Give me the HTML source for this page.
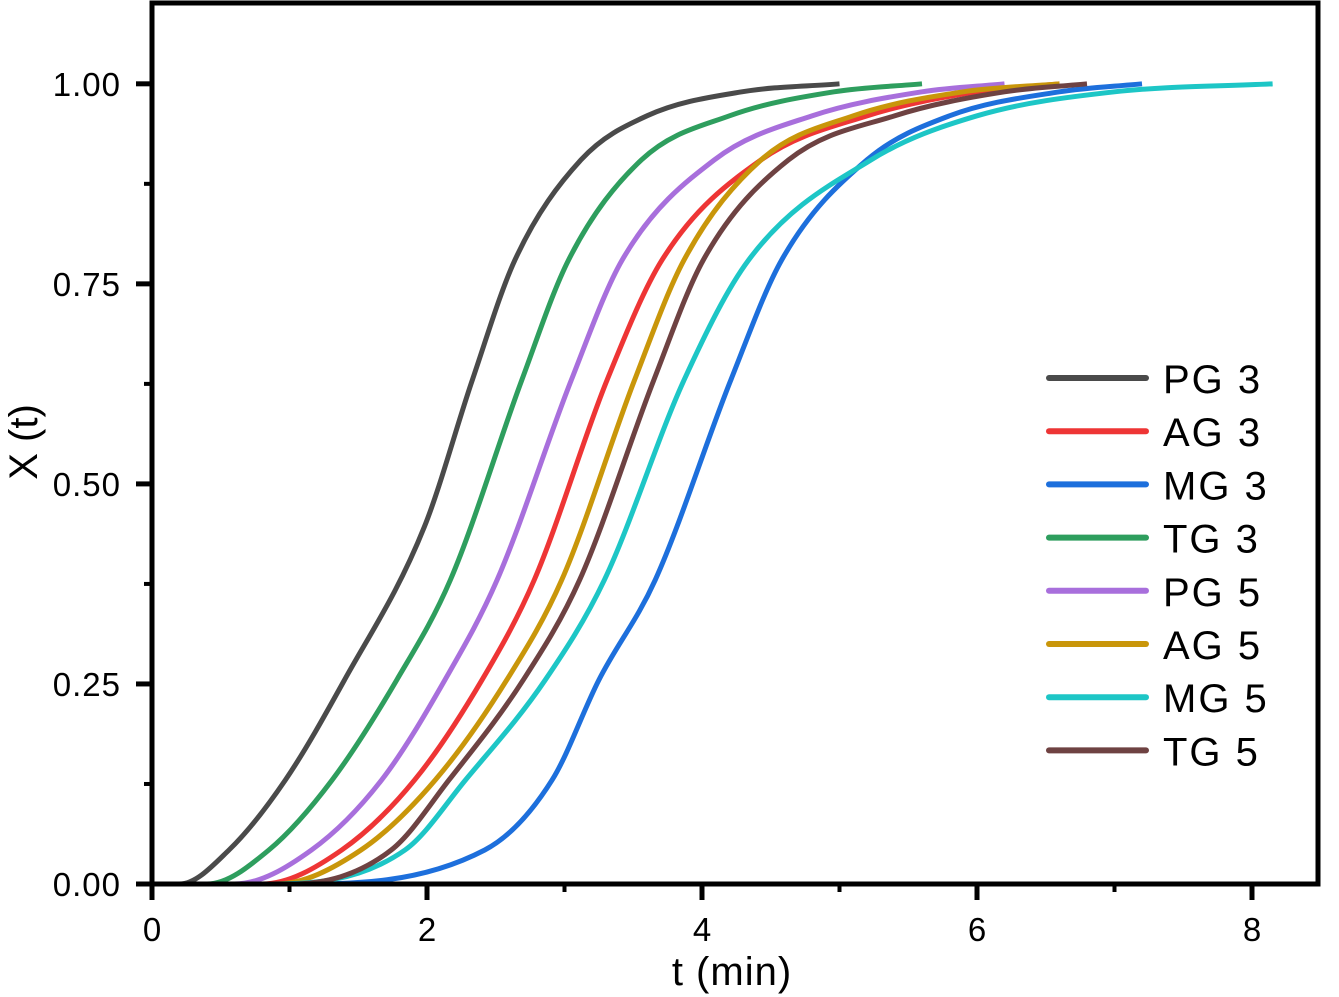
<!DOCTYPE html>
<html><head><meta charset="utf-8"><style>
html,body{margin:0;padding:0;background:#fff;}
svg{display:block;font-family:"Liberation Sans",Arial,sans-serif;}
</style></head><body>
<svg id="chart" width="1339" height="997" viewBox="0 0 1339 997" xmlns="http://www.w3.org/2000/svg"></svg>
<script>
const xTicks=[0,2,4,6,8];
const yTicks=[0,0.25,0.5,0.75,1.0];
const yTickLabels=["0.00","0.25","0.50","0.75","1.00"];
const seriesNames=["PG 3","AG 3","MG 3","TG 3","PG 5","AG 5","MG 5","TG 5"];
const seriesColors=["#4a4a4a","#ee3535","#1d6fdc","#2e9e5e","#a86fdc","#c9960a","#1dc6c6","#6e4242"];
const tPG3=[0,0.2,0.56,0.97,1.4,1.98,2.33,2.64,3.12,3.6,4.29,5];
const xPG3=[0,0,0.0425,0.13,0.255,0.446,0.63,0.78,0.905,0.96,0.99,1];
const tTG3=[0,0.4,0.85,1.31,1.78,2.17,2.69,3.03,3.56,4.2,4.96,5.6];
const xTG3=[0,0,0.0425,0.13,0.255,0.38,0.63,0.78,0.905,0.96,0.99,1];
const tPG5=[0,0.6,1.16,1.67,2.13,2.51,3.05,3.42,4.09,4.8,5.6,6.2];
const xPG5=[0,0,0.0425,0.13,0.255,0.38,0.63,0.78,0.905,0.96,0.99,1];
const tAG3=[0,0.8,1.38,1.91,2.4,2.78,3.31,3.71,4.43,5.2,6.0,6.6];
const xAG3=[0,0,0.0425,0.13,0.255,0.38,0.63,0.78,0.905,0.96,0.99,1];
const tAG5=[0,0.9,1.52,2.06,2.58,2.98,3.51,3.87,4.43,5.1,5.9,6.6];
const xAG5=[0,0,0.0425,0.13,0.255,0.38,0.63,0.78,0.905,0.96,0.99,1];
const tTG5=[0,1,1.74,2.16,2.7,3.11,3.65,4.01,4.63,5.4,6.2,6.8];
const xTG5=[0,0,0.0425,0.13,0.255,0.38,0.63,0.78,0.905,0.96,0.99,1];
const tMG5=[0,0.8,1.84,2.28,2.86,3.29,3.87,4.34,5.23,6.0,7.0,8.15];
const xMG5=[0,0,0.0425,0.13,0.255,0.38,0.63,0.78,0.905,0.96,0.99,1];
const tMG3=[0,1,2.42,2.91,3.25,3.66,4.21,4.58,5.2,5.8,6.6,7.2];
const xMG3=[0,0,0.0425,0.13,0.255,0.38,0.63,0.78,0.905,0.96,0.99,1];
const seriesT=[tPG3,tAG3,tMG3,tTG3,tPG5,tAG5,tMG5,tTG5];
const seriesX=[xPG3,xAG3,xMG3,xTG3,xPG5,xAG5,xMG5,xTG5];

const svg=document.getElementById('chart');
const NS="http://www.w3.org/2000/svg";
const L=152,R=1318,T=3,B=884;
const xMin=0,xMax=8.48,yMin=0,yMax=1.101;
function sx(v){return L+(v-xMin)/(xMax-xMin)*(R-L);}
function sy(v){return B-(v-yMin)/(yMax-yMin)*(B-T);}
function mk(tag,attrs){const e=document.createElementNS(NS,tag);for(const k in attrs)e.setAttribute(k,attrs[k]);svg.appendChild(e);return e;}
function path(xs,ys){
  const n=xs.length, d=[], m=new Array(n);
  for(let i=0;i<n-1;i++)d.push((ys[i+1]-ys[i])/(xs[i+1]-xs[i]));
  m[0]=d[0];m[n-1]=d[n-2];
  for(let i=1;i<n-1;i++){m[i]=(d[i-1]*d[i]<=0)?0:(d[i-1]+d[i])/2;}
  for(let i=0;i<n-1;i++){
    if(d[i]===0){m[i]=0;m[i+1]=0;continue;}
    const a=m[i]/d[i],b=m[i+1]/d[i],s=a*a+b*b;
    if(s>9){const t=3/Math.sqrt(s);m[i]=t*a*d[i];m[i+1]=t*b*d[i];}
  }
  let p="M"+sx(xs[0])+","+sy(ys[0]);
  for(let i=0;i<n-1;i++){
    const h=xs[i+1]-xs[i];
    p+=" C"+sx(xs[i]+h/3)+","+sy(ys[i]+m[i]*h/3)+" "+sx(xs[i+1]-h/3)+","+sy(ys[i+1]-m[i+1]*h/3)+" "+sx(xs[i+1])+","+sy(ys[i+1]);
  }
  return p;
}
for(let s=0;s<seriesNames.length;s++){
  const e=mk('path',{d:path(seriesT[s],seriesX[s]),fill:'none',stroke:seriesColors[s],'stroke-width':5,'stroke-linejoin':'round'});
  
  
}
const fr=mk('rect',{x:L,y:T,width:R-L,height:B-T,fill:'none',stroke:'#000','stroke-width':5});


for(let i=0;i<xTicks.length;i++){
  const x=sx(xTicks[i]);
  const t=mk('line',{x1:x,x2:x,y1:B,y2:B+16,stroke:'#000','stroke-width':5});
  
  
  const lb=mk('text',{x:x,y:941,'font-size':33,'text-anchor':'middle',fill:'#000'});
  lb.textContent=xTicks[i];
  
  
  if(i<xTicks.length-1){
    const mx=sx(xTicks[i]+1);
    const m=mk('line',{x1:mx,x2:mx,y1:B,y2:B+8,stroke:'#000','stroke-width':4});
    
    
  }
}
for(let i=0;i<yTicks.length;i++){
  const y=sy(yTicks[i]);
  const t=mk('line',{x1:L-16,x2:L,y1:y,y2:y,stroke:'#000','stroke-width':5});
  
  
  const lb=mk('text',{x:121,y:y+12,'font-size':33,'text-anchor':'end',fill:'#000','letter-spacing':1});
  lb.textContent=yTickLabels[i];
  
  
  const my=sy(yTicks[i]+0.125);
  const m=mk('line',{x1:L-8,x2:L,y1:my,y2:my,stroke:'#000','stroke-width':4});
  
  
}
const xt=mk('text',{x:(sx(4)+30),y:985,'font-size':40,'text-anchor':'middle',fill:'#000','letter-spacing':1});
xt.textContent='t (min)';


const yt=mk('text',{x:0,y:0,'font-size':40,'text-anchor':'middle',fill:'#000',transform:'translate(37,442) rotate(-90)'});
yt.textContent='X (t)';


for(let s=0;s<seriesNames.length;s++){
  const y=378+s*53.2;
  const ln=mk('line',{x1:1049,x2:1146,y1:y,y2:y,stroke:seriesColors[s],'stroke-width':6,'stroke-linecap':'round'});
  
  
  const tx=mk('text',{x:1163,y:y+15,'font-size':40,fill:'#000','letter-spacing':2});
  tx.textContent=seriesNames[s];
  
  
}
</script>
</body></html>
